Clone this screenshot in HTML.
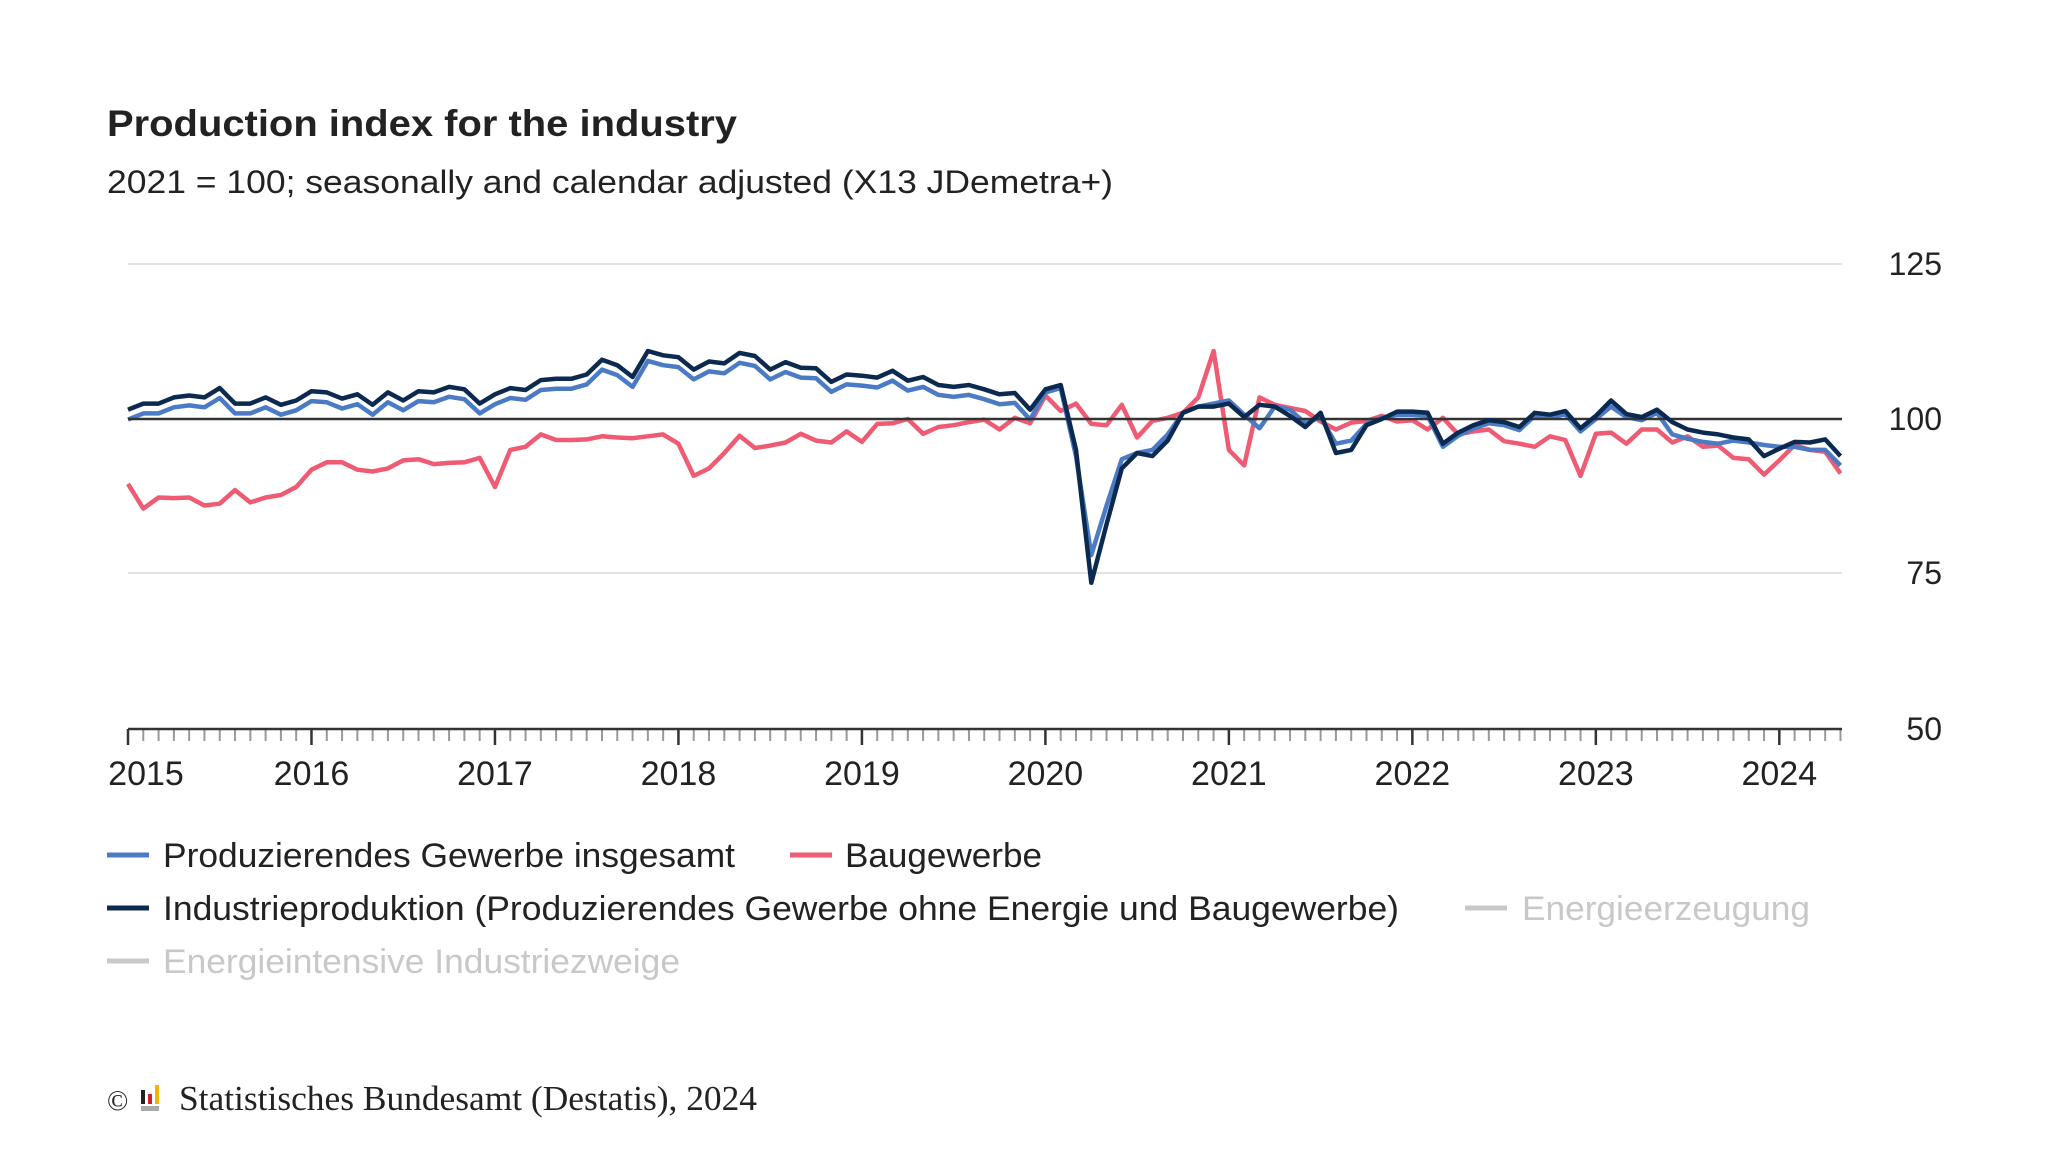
<!DOCTYPE html>
<html><head><meta charset="utf-8"><style>
html,body{margin:0;padding:0;background:#fff;}
svg{display:block;font-family:"Liberation Sans",Arial,sans-serif;}
</style></head><body>
<svg id="s" width="2048" height="1152" viewBox="0 0 2048 1152" xmlns="http://www.w3.org/2000/svg">
<rect width="2048" height="1152" fill="#fff"/>
<text x="107" y="136" font-size="37" font-weight="bold" fill="#222" textLength="630" lengthAdjust="spacingAndGlyphs">Production index for the industry</text>
<text x="107" y="193" font-size="32" fill="#222" textLength="1006" lengthAdjust="spacingAndGlyphs">2021 = 100; seasonally and calendar adjusted (X13 JDemetra+)</text>
<line x1="128" x2="1842" y1="264" y2="264" stroke="#d9d9d9" stroke-width="1.5"/>
<line x1="128" x2="1842" y1="573" y2="573" stroke="#d9d9d9" stroke-width="1.5"/>
<g font-size="32" fill="#222" text-anchor="end">
<text x="1942" y="275">125</text><text x="1942" y="430">100</text><text x="1942" y="584">75</text><text x="1942" y="740">50</text>
</g>
<g id="ticks"></g>
<g id="series"></g>
<line x1="128" x2="1842" y1="419" y2="419" stroke="#333" stroke-width="2.5"/>
<g id="top"></g>
<line x1="128" x2="1842" y1="729" y2="729" stroke="#333" stroke-width="2.5"/>
<g font-size="34" fill="#222" text-anchor="middle" id="xl"></g>
<g font-size="34">
<line x1="107" x2="149" y1="855" y2="855" stroke="#4a7bc4" stroke-width="5"/>
<text x="163" y="867" fill="#222" textLength="572" lengthAdjust="spacingAndGlyphs">Produzierendes Gewerbe insgesamt</text>
<line x1="790" x2="832" y1="855" y2="855" stroke="#ef5b72" stroke-width="5"/>
<text x="845" y="867" fill="#222" textLength="197" lengthAdjust="spacingAndGlyphs">Baugewerbe</text>
<line x1="107" x2="149" y1="908" y2="908" stroke="#0c2a4f" stroke-width="5"/>
<text x="163" y="920" fill="#222" textLength="1236" lengthAdjust="spacingAndGlyphs">Industrieproduktion (Produzierendes Gewerbe ohne Energie und Baugewerbe)</text>
<line x1="1465" x2="1507" y1="908" y2="908" stroke="#c8c8c8" stroke-width="5"/>
<text x="1522" y="920" fill="#c8c8c8" textLength="288" lengthAdjust="spacingAndGlyphs">Energieerzeugung</text>
<line x1="107" x2="149" y1="961" y2="961" stroke="#c8c8c8" stroke-width="5"/>
<text x="163" y="973" fill="#c8c8c8" textLength="517" lengthAdjust="spacingAndGlyphs">Energieintensive Industriezweige</text>
</g>
<text x="107" y="1110" font-family="Liberation Serif,serif" font-size="28" fill="#222">©</text>
<rect x="141" y="1090" width="4" height="14" fill="#222"/><rect x="148" y="1094" width="4" height="10" fill="#d0202a"/><rect x="155" y="1085" width="4" height="19" fill="#f4b400"/>
<rect x="141" y="1106" width="18" height="5" fill="#aaa"/>
<text x="179" y="1110" font-family="Liberation Serif,serif" font-size="35" fill="#222" textLength="578" lengthAdjust="spacingAndGlyphs">Statistisches Bundesamt (Destatis), 2024</text>
</svg>
<script>
var X0=128,DX=15.29;
function Y(v){return 419-(v-100)*6.18;}
var navy=[101.5,102.5,102.5,103.5,103.8,103.5,105,102.5,102.5,103.5,102.3,103,
104.5,104.3,103.3,104,102.3,104.3,103,104.5,104.3,105.2,104.8,102.5,
104,105,104.7,106.3,106.5,106.5,107.2,109.6,108.7,106.8,111,110.3,
110,108,109.3,109,110.7,110.2,108,109.2,108.3,108.2,106,107.2,
107,106.7,107.8,106.2,106.8,105.5,105.2,105.5,104.8,104,104.2,101.5,
104.8,105.5,95,73.5,83,92,94.5,94,96.5,101,102,102,
102.5,100.3,102.3,102,100.5,98.7,101,94.5,95,99,100,101.2,
101.2,101,96,97.8,99,99.8,99.5,98.7,101,100.7,101.3,98.5,
100.5,103,100.8,100.3,101.5,99.5,98.3,97.8,97.5,97,96.7,94,
95.2,96.3,96.2,96.7,94];
var blue=navy.map(function(v,i){return i<60?v-1.6:(i<84?v:v-0.5);});
var b2020=[104.3,105,94,78,86,93.5,94.5,95,97.5,101,102,102.5,103,100.7,98.5,102,101.5,99.3,100.3,96,96.5,99.2,100.2,100.7];
for(var i=0;i<24;i++)blue[60+i]=b2020[i];
blue[97]=102;blue[101]=97.5;blue[102]=96.8;blue[103]=96.3;blue[104]=96;blue[107]=95.8;blue[108]=95.5;blue[109]=95.5;blue[110]=95;blue[111]=95;blue[112]=92.5;
var red=[89.5,85.5,87.3,87.2,87.3,86,86.3,88.5,86.5,87.3,87.7,89,
91.8,93,93,91.8,91.5,92,93.3,93.5,92.7,92.9,93,93.7,
89,95,95.5,97.5,96.6,96.6,96.7,97.2,97,96.9,97.2,97.5,
96,90.8,92,94.5,97.3,95.3,95.7,96.2,97.6,96.5,96.2,98,
96.3,99.2,99.3,100,97.6,98.7,99,99.5,99.9,98.3,100.2,99.3,
103.8,101.3,102.5,99.2,99,102.3,97,99.7,100.2,101,103.5,111,
95,92.5,103.5,102.3,101.8,101.3,99.6,98.3,99.4,99.7,100.5,99.6,
99.8,98.3,100.2,97.5,98,98.3,96.4,96,95.5,97.2,96.6,90.8,
97.6,97.8,96,98.3,98.3,96.2,97.2,95.5,95.7,93.7,93.5,91,
93.3,95.8,95,94.7,91.2];
function path(a){return a.map(function(v,i){return (i?'L':'M')+(X0+i*DX).toFixed(1)+','+Y(v).toFixed(1);}).join('');}
var ns='http://www.w3.org/2000/svg';
function add(g,tag,attrs){var e=document.createElementNS(ns,tag);for(var k in attrs)e.setAttribute(k,attrs[k]);document.getElementById(g).appendChild(e);return e;}
add('series','path',{d:path(red),fill:'none',stroke:'#ef5b72','stroke-width':4.5,'stroke-linejoin':'round'});
add('series','path',{d:path(blue),fill:'none',stroke:'#4a7bc4','stroke-width':4.5,'stroke-linejoin':'round'});
add('top','path',{d:path(navy),fill:'none',stroke:'#0c2a4f','stroke-width':4.5,'stroke-linejoin':'round'});
for(var m=0;m<=112;m++){var x=X0+m*DX;var maj=m%12==0;
add('ticks','line',{x1:x,x2:x,y1:729,y2:maj?745:741,stroke:maj?'#333':'#999','stroke-width':maj?2.5:2});
if(maj){var t=add('xl','text',{x:m==0?146:x,y:785});t.textContent=2015+m/12;}}
</script>
</body></html>
